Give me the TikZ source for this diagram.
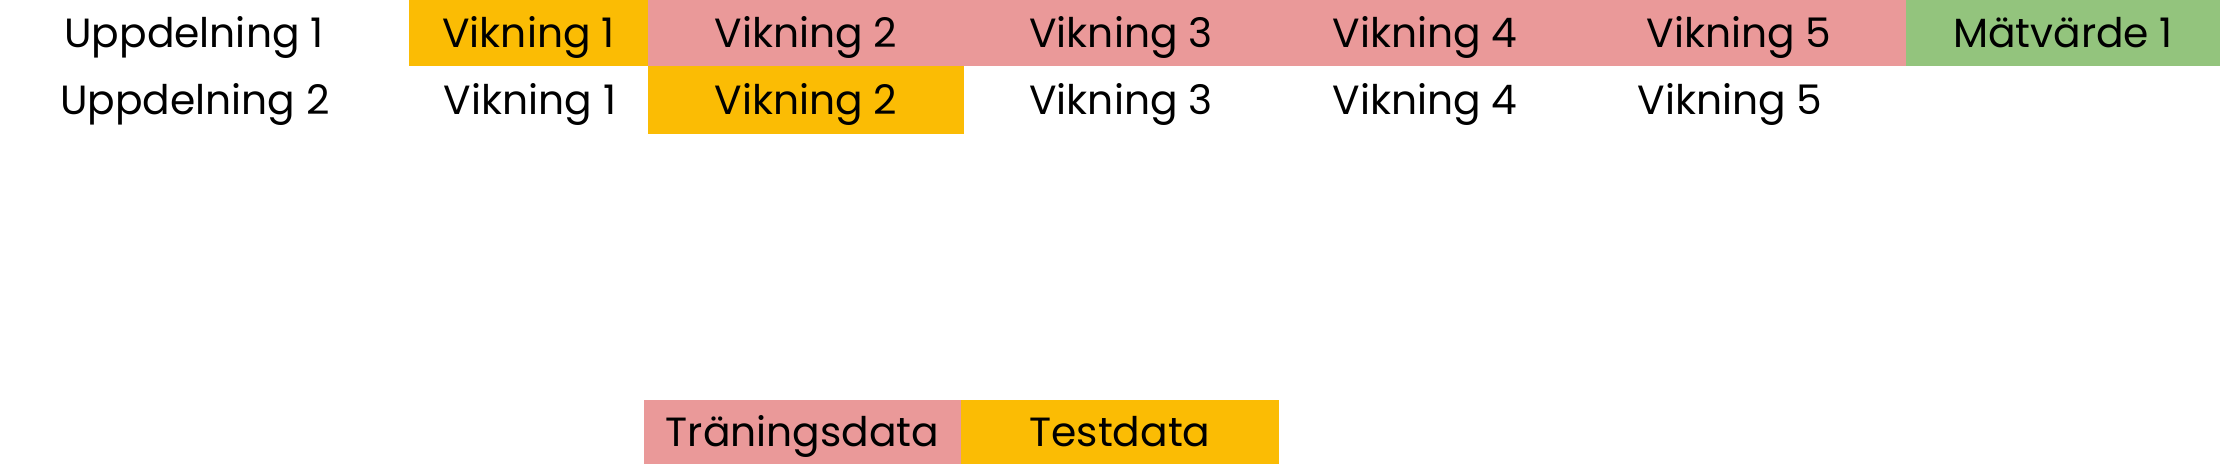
\documentclass[tikz,border=0pt]{standalone}
\usepackage{fontspec}
\setmainfont{Poppins}
\definecolor{fold}{HTML}{FBBC04}
\definecolor{train}{HTML}{EA9999}
\definecolor{score}{HTML}{93C47D}

\begin{document}
\begin{tikzpicture}[cell/.style={shape=rectangle, inner sep=0, minimum height=0.66cm, text height=0.9em, text depth=0.08em, font=\fontsize{11.6}{14}\selectfont}]
  \useasboundingbox (0,0) rectangle (22.2,4.64);
  % Uppdelning 1
  \node (s1)  at (1.94,4.31) [cell] {Uppdelning 1};
  \node (s1f1) at (5.285,4.31) [cell, fill=fold, minimum width=2.39cm] {Vikning 1};
  \node (s1f2) at (8.06,4.31) [cell, fill=train, minimum width=3.16cm] {Vikning 2};
  \node (s1f3) at (11.21,4.31) [cell, fill=train, minimum width=3.15cm] {Vikning 3};
  \node (s1f4) at (14.25,4.31) [cell, fill=train, minimum width=2.95cm] {Vikning 4};
  \node (s1f5) at (17.39,4.31) [cell, fill=train, minimum width=3.35cm] {Vikning 5};
  \node (s1m) at (20.63,4.31) [cell, fill=score, minimum width=3.15cm] {Mätvärde 1};
  % Uppdelning 2
  \node (s2)  at (1.95,3.64) [cell, minimum height=0.68cm] {Uppdelning 2};
  \node (s2f1) at (5.30,3.64) [cell, minimum height=0.68cm] {Vikning 1};
  \node (s2f2) at (8.06,3.64) [cell, fill=fold, minimum width=3.16cm, minimum height=0.68cm] {Vikning 2};
  \node (s2f3) at (11.21,3.64) [cell, minimum height=0.68cm] {Vikning 3};
  \node (s2f4) at (14.25,3.64) [cell, minimum height=0.68cm] {Vikning 4};
  \node (s2f5) at (17.30,3.64) [cell, minimum height=0.68cm] {Vikning 5};
  % legend
  \node (train) at (8.025,0.32) [cell, fill=train, minimum width=3.17cm, minimum height=0.64cm] {Träningsdata};
  \node (test) at (11.20,0.32) [cell, fill=fold, minimum width=3.18cm, minimum height=0.64cm] {Testdata};
\end{tikzpicture}
\end{document}
